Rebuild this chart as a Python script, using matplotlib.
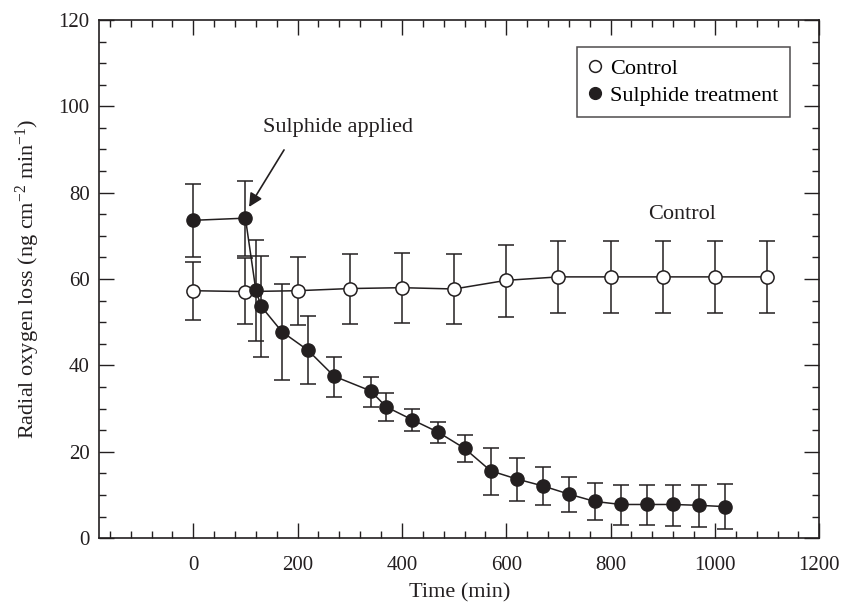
import matplotlib.pyplot as plt
from matplotlib.ticker import MultipleLocator

plt.rcParams['font.family'] = ['Liberation Serif', 'DejaVu Serif']
plt.rcParams['mathtext.fontset'] = 'custom'
plt.rcParams['mathtext.rm'] = 'Liberation Serif'
plt.rcParams['mathtext.it'] = 'Liberation Serif:italic'

ink = '#231f20'

# control series (open circles)
ctrl_t = [0, 100, 200, 300, 400, 500, 600, 700, 800, 900, 1000, 1100]
ctrl_y = [57.3, 57.1, 57.3, 57.8, 58.0, 57.7, 59.7, 60.5, 60.5, 60.5, 60.5, 60.5]
ctrl_lo = [50.5, 49.5, 49.3, 49.6, 49.8, 49.5, 51.3, 52.1, 52.1, 52.1, 52.1, 52.1]
ctrl_hi = [63.9, 64.9, 65.1, 65.9, 66.1, 65.7, 67.9, 68.9, 68.9, 68.9, 68.9, 68.9]

# sulphide treatment series (filled circles)
sul_t = [0, 100, 120, 130, 170, 220, 270, 340, 370, 420, 470, 520, 570, 620,
         670, 720, 770, 820, 870, 920, 970, 1020]
sul_y = [73.6, 74.1, 57.4, 53.7, 47.8, 43.5, 37.5, 34.1, 30.4, 27.4, 24.5, 20.8,
         15.6, 13.7, 12.1, 10.2, 8.5, 7.8, 7.8, 7.8, 7.6, 7.3]
sul_lo = [65.0, 65.4, 45.6, 42.0, 36.6, 35.6, 32.8, 30.4, 27.2, 24.8, 22.0, 17.6,
          10.1, 8.7, 7.6, 6.1, 4.3, 3.1, 3.0, 2.9, 2.5, 2.1]
sul_hi = [82.0, 82.8, 69.0, 65.3, 58.9, 51.4, 42.0, 37.4, 33.5, 30.0, 26.9, 23.8,
          20.9, 18.5, 16.4, 14.2, 12.7, 12.2, 12.3, 12.4, 12.4, 12.5]

fig = plt.figure(figsize=(8.42, 6.04), dpi=100)
ax = fig.add_axes([0.118, 0.109, 0.855, 0.858])

c_err = [[y - l for y, l in zip(ctrl_y, ctrl_lo)], [h - y for y, h in zip(ctrl_y, ctrl_hi)]]
s_err = [[y - l for y, l in zip(sul_y, sul_lo)], [h - y for y, h in zip(sul_y, sul_hi)]]

ax.errorbar(ctrl_t, ctrl_y, yerr=c_err, color=ink, lw=1.1, elinewidth=1.1,
            capsize=5.6, capthick=1.1, marker='o', ms=9.5, mfc='white',
            mec=ink, mew=1.1, zorder=3)
ax.errorbar(sul_t, sul_y, yerr=s_err, color=ink, lw=1.1, elinewidth=1.1,
            capsize=5.6, capthick=1.1, marker='o', ms=9.5, mfc=ink,
            mec=ink, zorder=4)

ax.set_xlim(-180, 1200)
ax.set_ylim(0, 120)
ax.xaxis.set_major_locator(MultipleLocator(200))
ax.xaxis.set_minor_locator(MultipleLocator(40))
ax.yaxis.set_major_locator(MultipleLocator(20))
ax.yaxis.set_minor_locator(MultipleLocator(5))
ax.tick_params(which='both', direction='in', top=True, right=True,
               color=ink, width=1.0, labelsize=15, labelcolor=ink)
ax.tick_params(which='major', length=11)
ax.tick_params(axis='x', which='major', pad=13)
ax.tick_params(axis='y', which='major', pad=7)
ax.tick_params(which='minor', length=5)
for s in ax.spines.values():
    s.set_linewidth(1.2)
    s.set_color(ink)

ax.set_xlabel('Time (min)', fontsize=16, color=ink, labelpad=6)
ax.set_ylabel('Radial oxygen loss (ng cm$^{-2}$ min$^{-1}$)', fontsize=16,
              color=ink, labelpad=12)

ax.text(277, 95, 'Sulphide applied', ha='center', va='center', fontsize=16, color=ink)
ax.annotate('', xy=(107, 76.7), xytext=(174, 89.9),
            arrowprops=dict(arrowstyle='-|>', color=ink, lw=1.2,
                            mutation_scale=20, shrinkA=0, shrinkB=0))
ax.text(937, 75, 'Control', ha='center', va='center', fontsize=16, color=ink)

h1, = ax.plot([], [], 'o', ms=8.5, mfc='white', mec=ink, mew=1.1, ls='none')
h2, = ax.plot([], [], 'o', ms=8.5, mfc=ink, mec=ink, ls='none')
leg = ax.legend([h1, h2], ['Control', 'Sulphide treatment'], loc='upper right',
                bbox_to_anchor=(0.959, 0.948), borderaxespad=0, fontsize=16,
                fancybox=False, frameon=True, handlelength=0.6,
                handletextpad=0.4, borderpad=0.5, labelspacing=0.3)
leg.get_frame().set_edgecolor(ink)
leg.get_frame().set_linewidth(1.1)

fig.savefig('out.png', dpi=100)
